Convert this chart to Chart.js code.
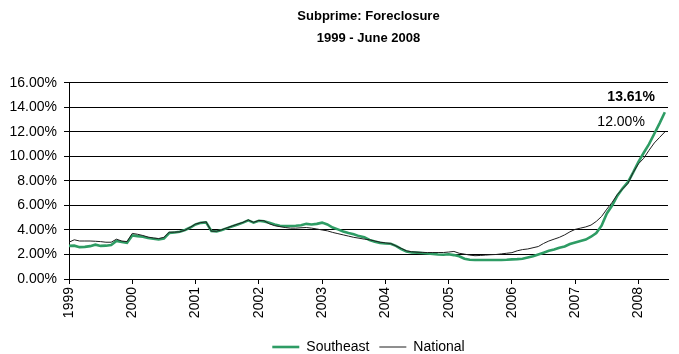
<!DOCTYPE html>
<html lang="en">
<head>
    <meta charset="UTF-8">
    <title>Subprime: Foreclosure</title>
    <script src="https://cdn.jsdelivr.net/npm/chart.js"></script>
    <style>
        body {
            margin: 0;
            background-color: #ffffff;
        }
        .container {
            width: 679px;
            height: 354px;
        }
    </style>
</head>
<body>

<div class="container">
    <canvas id="graphCanvas" width="679" height="354"></canvas>
</div>

<script>
    // Monthly foreclosure rates (%), Jan 1999 - Jun 2008
    const firstYear = 1999;
    const seriesNames = ['Southeast', 'National'];

    const southeast = [
        2.70, 2.72, 2.60, 2.62, 2.68, 2.80, 2.70, 2.72, 2.78, 3.10, 3.02, 2.95,   // 1999
        3.55, 3.50, 3.45, 3.35, 3.28, 3.22, 3.30, 3.75, 3.80, 3.85, 4.00, 4.20,   // 2000
        4.45, 4.58, 4.62, 3.92, 3.88, 4.00, 4.15, 4.30, 4.45, 4.60, 4.78, 4.60,   // 2001
        4.75, 4.70, 4.58, 4.45, 4.35, 4.33, 4.33, 4.35, 4.38, 4.50, 4.45, 4.50,   // 2002
        4.60, 4.45, 4.20, 4.05, 3.88, 3.75, 3.65, 3.50, 3.40, 3.18, 3.05, 2.95,   // 2003
        2.90, 2.87, 2.70, 2.45, 2.25, 2.17, 2.15, 2.12, 2.08, 2.05, 2.00, 1.98,   // 2004
        2.02, 1.95, 1.85, 1.65, 1.57, 1.55, 1.55, 1.55, 1.55, 1.55, 1.55, 1.57,   // 2005
        1.60, 1.62, 1.65, 1.75, 1.85, 2.00, 2.15, 2.30, 2.40, 2.55, 2.65, 2.85,   // 2006
        2.98, 3.10, 3.22, 3.45, 3.75, 4.35, 5.35, 6.00, 6.80, 7.40, 7.90, 8.70,   // 2007
        9.55, 10.30, 11.00, 11.85, 12.70, 13.61                                   // 2008
    ];

    const national = [
        3.00, 3.20, 3.10, 3.10, 3.10, 3.08, 3.05, 3.00, 3.00, 3.25, 3.10, 3.05,   // 1999
        3.72, 3.65, 3.55, 3.42, 3.35, 3.30, 3.40, 3.82, 3.82, 3.85, 3.98, 4.22,   // 2000
        4.48, 4.60, 4.66, 3.90, 3.90, 4.02, 4.18, 4.33, 4.48, 4.62, 4.82, 4.62,   // 2001
        4.78, 4.75, 4.50, 4.35, 4.27, 4.20, 4.15, 4.15, 4.18, 4.20, 4.15, 4.08,   // 2002
        4.00, 3.93, 3.80, 3.70, 3.60, 3.50, 3.40, 3.33, 3.25, 3.20, 3.10, 3.00,   // 2003
        2.95, 2.90, 2.70, 2.50, 2.30, 2.22, 2.19, 2.17, 2.16, 2.16, 2.16, 2.16,   // 2004
        2.20, 2.25, 2.10, 2.03, 1.95, 1.90, 1.92, 1.95, 1.98, 2.00, 2.05, 2.10,   // 2005
        2.15, 2.30, 2.40, 2.45, 2.55, 2.65, 2.90, 3.10, 3.25, 3.40, 3.60, 3.85,   // 2006
        4.05, 4.15, 4.25, 4.40, 4.70, 5.10, 5.70, 6.25, 6.90, 7.35, 7.80, 8.70,   // 2007
        9.40, 9.85, 10.50, 11.10, 11.55, 12.00                                    // 2008
    ];

    const fontFamily = '"Liberation Sans", Arial, sans-serif';

    // label the last value of each line
    const endLabels = {
        id: 'endLabels',
        afterDatasetsDraw(chart) {
            const ctx = chart.ctx;
            const styles = [
                { weight: 'bold', dx: -10, dy: -15 },
                { weight: 'normal', dx: -20, dy: -10 }
            ];
            ctx.save();
            ctx.fillStyle = '#000';
            ctx.textAlign = 'right';
            ctx.textBaseline = 'middle';
            chart.data.datasets.forEach((ds, i) => {
                const meta = chart.getDatasetMeta(i);
                const pt = meta.data[meta.data.length - 1];
                const last = ds.data[ds.data.length - 1].y;
                ctx.font = styles[i].weight + ' 14px ' + fontFamily;
                ctx.fillText(last.toFixed(2) + '%', pt.x + styles[i].dx, pt.y + styles[i].dy);
            });
            ctx.restore();
        }
    };

    const ctx = document.getElementById('graphCanvas').getContext('2d');

    new Chart(ctx, {
        type: 'line',
        data: {
            datasets: [{
                label: seriesNames[0],
                data: southeast.map((v, i) => ({ x: i, y: v })),
                borderColor: '#2e9c64',
                backgroundColor: '#2e9c64',
                borderWidth: 2.6,
                pointRadius: 0,
                tension: 0,
                order: 1
            }, {
                label: seriesNames[1],
                data: national.map((v, i) => ({ x: i, y: v })),
                borderColor: '#1e1e1e',
                backgroundColor: '#1e1e1e',
                borderWidth: 1,
                pointRadius: 0,
                tension: 0,
                order: 0
            }]
        },
        options: {
            responsive: false,
            animation: false,
            layout: {
                padding: { left: 10, right: 11, top: 0, bottom: -10 }
            },
            plugins: {
                title: {
                    display: true,
                    fullSize: false,
                    text: ['Subprime: Foreclosure', '1999 - June 2008'],
                    color: '#000',
                    font: { family: fontFamily, size: 13, weight: 'bold', lineHeight: 1.65 },
                    padding: { top: 6, bottom: 34 }
                },
                legend: {
                    position: 'bottom',
                    fullSize: false,
                    labels: {
                        usePointStyle: true,
                        pointStyle: 'line',
                        pointStyleWidth: 27,
                        color: '#000',
                        padding: 10,
                        font: { family: fontFamily, size: 14 },
                        sort: (a, b) => a.datasetIndex - b.datasetIndex
                    }
                },
                tooltip: { enabled: false }
            },
            scales: {
                x: {
                    type: 'linear',
                    min: 0,
                    max: 113.6,
                    afterFit: axis => { axis.height = 51; },
                    ticks: {
                        stepSize: 12,
                        includeBounds: false,
                        autoSkip: false,
                        minRotation: 90,
                        maxRotation: 90,
                        padding: 3,
                        color: '#000',
                        font: { family: fontFamily, size: 14 },
                        callback: v => (v % 12 === 0 ? String(firstYear + v / 12) : '')
                    },
                    grid: {
                        drawOnChartArea: false,
                        drawTicks: true,
                        tickLength: 5,
                        color: '#000'
                    },
                    border: { display: true, color: '#000', width: 1 }
                },
                y: {
                    min: 0,
                    max: 16,
                    afterFit: axis => { axis.width = 59; },
                    ticks: {
                        stepSize: 2,
                        padding: 7,
                        color: '#000',
                        font: { family: fontFamily, size: 14 },
                        callback: v => v.toFixed(2) + '%'
                    },
                    grid: {
                        color: '#000',
                        lineWidth: 1,
                        tickLength: 5
                    },
                    border: { display: true, color: '#000', width: 1 }
                }
            }
        },
        plugins: [endLabels]
    });
</script>

</body>
</html>
